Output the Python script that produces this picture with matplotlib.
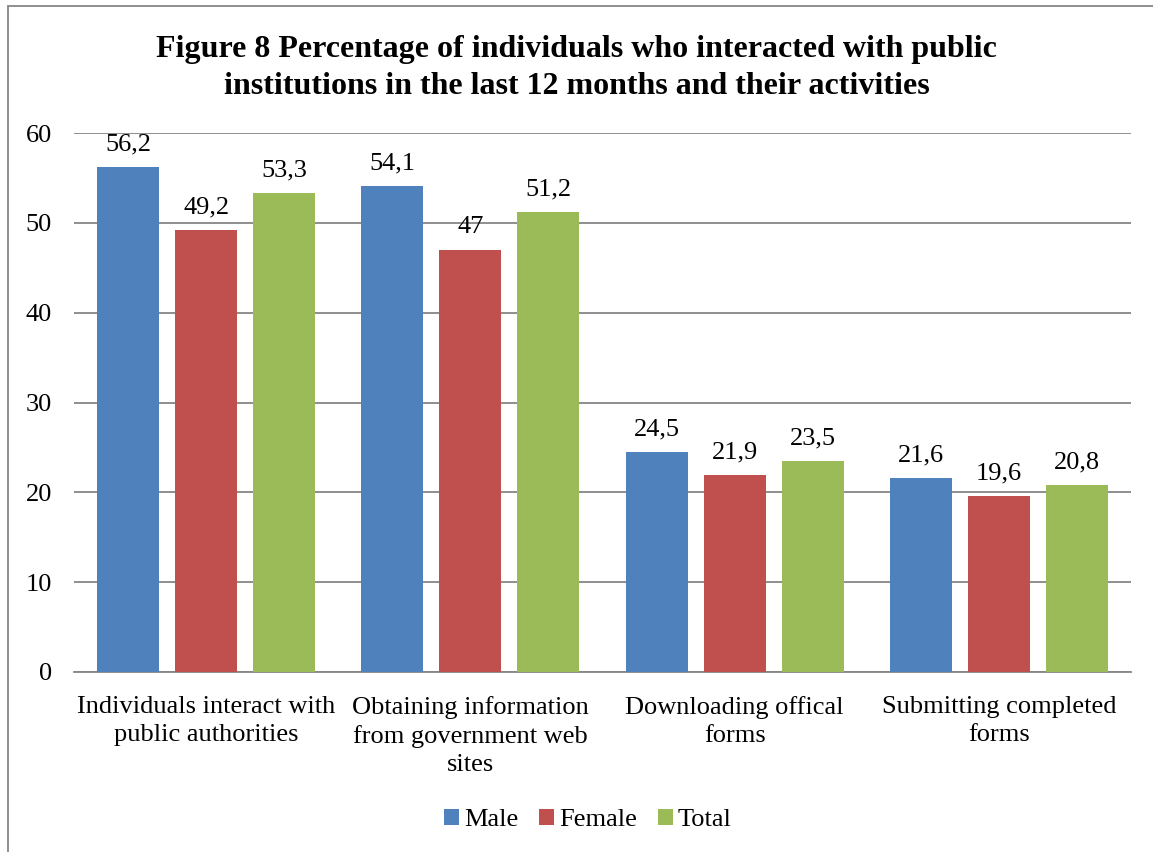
import numpy as np
import matplotlib
matplotlib.use("Agg")
from matplotlib import pyplot as plt
from matplotlib.patches import Rectangle

categories = [
    "Individuals interact with\npublic authorities",
    "Obtaining information\nfrom government web\nsites",
    "Downloading offical\nforms",
    "Submitting completed\nforms",
]
series = ["Male", "Female", "Total"]
male = [56.2, 54.1, 24.5, 21.6]
female = [49.2, 47, 21.9, 19.6]
total = [53.3, 51.2, 23.5, 20.8]
colors = ["#4F81BD", "#C0504D", "#9BBB59"]

plt.rcParams["font.family"] = ["Liberation Serif", "DejaVu Serif"]
fs = 19

fig = plt.figure(figsize=(11.53, 8.52), dpi=100)
ax = fig.add_axes([74 / 1153, 1 - 672 / 852, (1131 - 74) / 1153, (672 - 133) / 852])

x = np.arange(len(categories))
width = 0.235
step = 0.295
for k, (name, vals, c) in enumerate(zip(series, [male, female, total], colors)):
    pos = x + (k - 1) * step
    ax.bar(pos, vals, width, color=c, label=name, zorder=3)
    for p, v in zip(pos, vals):
        ax.text(p, v + 1.3, f"{v:g}".replace(".", ","), ha="center", va="bottom",
                fontsize=fs)

ax.set_xlim(-0.5, len(categories) - 0.5)
ax.set_ylim(0, 60)
ax.set_yticks(np.arange(0, 61, 10))
ax.yaxis.grid(True, color="#868686", lw=1.3, zorder=0)
ax.tick_params(axis="y", length=0, pad=16, labelsize=fs)
ax.set_xticks(x, categories, fontsize=fs, linespacing=1.36)
ax.tick_params(axis="x", length=0, pad=17)
for s in ["left", "right", "top"]:
    ax.spines[s].set_visible(False)
ax.spines["bottom"].set_color("#868686")
ax.spines["bottom"].set_linewidth(1.3)

fig.text(0.5, 1 - 68 / 852,
         "Figure 8 Percentage of individuals who interacted with public\n"
         "institutions in the last 12 months and their activities",
         ha="center", va="center", fontsize=23, fontweight="bold", linespacing=1.38)

fig.legend(loc="center", bbox_to_anchor=(588 / 1153, 1 - 820 / 852), ncol=3,
           frameon=False, fontsize=fs, handlelength=0.55, handleheight=0.55,
           handletextpad=0.2, columnspacing=0.8)

fig.patches.append(Rectangle((8 / 1153, -0.1), 1.2, 1 - 6 / 852 + 0.1,
                             transform=fig.transFigure, fill=False,
                             edgecolor="#868686", lw=1.3))

fig.savefig("out.png", dpi=100)
